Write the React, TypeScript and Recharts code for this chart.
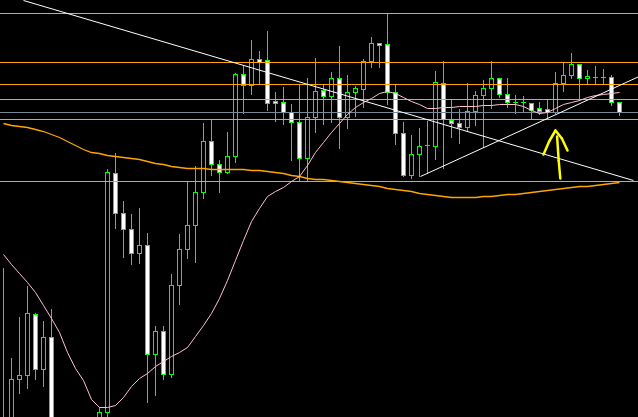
import { Bar, ComposedChart, Line, ReferenceLine, XAxis, YAxis } from "recharts";

// candles, oldest first (price units, no axis shown on the original screenshot)
const open = [
  180, 170, 221, 225, 286, 231, 263, 155, 140, 150, 135, 155, 170, 188, 427, 387, 371, 347, 355, 246,
  269, 226, 315, 351, 375, 408, 459, 436, 428, 444, 526, 515, 541, 540, 499, 498, 488, 478, 442, 483,
  510, 504, 522, 483, 508, 511, 539, 557, 556, 508, 467, 425, 446, 455, 454, 517, 480, 477, 473, 489,
  505, 512, 522, 506, 498, 498, 497, 492, 491, 488, 517, 525, 536, 522, 523, 523, 523, 498,
];
const high = [
  332, 242, 283, 314, 287, 279, 291, 160, 158, 155, 162, 175, 193, 431, 447, 399, 386, 392, 367, 274,
  274, 326, 366, 418, 434, 477, 481, 440, 468, 527, 535, 560, 549, 569, 508, 513, 496, 516, 522, 542,
  515, 528, 554, 525, 514, 541, 563, 557, 586, 516, 478, 465, 472, 479, 529, 539, 500, 491, 517, 509,
  520, 539, 522, 522, 505, 504, 497, 498, 500, 528, 537, 547, 536, 530, 534, 531, 525, 498,
];
const low = [
  150, 160, 207, 212, 221, 214, 148, 130, 135, 125, 130, 150, 165, 175, 372, 343, 336, 337, 198, 205,
  221, 223, 296, 342, 338, 402, 425, 408, 427, 438, 487, 506, 516, 490, 479, 476, 440, 419, 420, 468,
  476, 478, 452, 472, 484, 493, 533, 533, 496, 456, 424, 422, 424, 427, 441, 432, 463, 457, 470, 475,
  453, 492, 503, 493, 487, 489, 481, 486, 482, 487, 509, 522, 500, 516, 517, 517, 495, 485,
];
const close = [
  160, 221, 225, 287, 231, 263, 155, 140, 150, 135, 155, 170, 188, 428, 387, 371, 347, 355, 246, 269,
  226, 315, 351, 375, 408, 459, 436, 428, 444, 526, 515, 541, 538, 497, 497, 488, 478, 442, 483, 509,
  504, 522, 483, 508, 512, 539, 557, 555, 508, 467, 425, 446, 454, 455, 518, 481, 477, 473, 489, 505,
  512, 522, 506, 498, 498, 498, 490, 489, 488, 517, 525, 536, 522, 524, 523, 523, 498, 488,
];

// moving averages
const maFast = [
  346, 336, 327, 318, 308, 295, 282, 268, 248, 232, 220, 201, 193, 193, 195, 203, 214, 222, 227, 234,
  239, 244, 248, 253, 264, 275, 287, 302, 320, 340, 360, 379, 392, 404, 409, 413, 419, 424, 435, 448,
  458, 468, 477, 486, 493, 498, 502, 507, 509, 507, 503, 499, 496, 492, 492, 493, 493, 494, 494, 494,
  495, 495, 496, 496, 496, 494, 490, 487, 488, 492, 496, 498, 500, 503, 505, 506, 507, 508,
];
const maSlow = [
  477, 475, 474, 473, 471, 469, 466, 463, 459, 455, 451, 448, 447, 445, 444, 443, 442, 441, 439, 437,
  436, 434, 433, 432, 432, 432, 431, 431, 431, 431, 431, 430, 430, 429, 428, 427, 425, 424, 422, 421,
  421, 420, 419, 418, 417, 416, 415, 414, 412, 411, 410, 409, 407, 406, 405, 404, 403, 403, 403, 403,
  404, 404, 405, 406, 406, 407, 408, 409, 410, 411, 412, 413, 414, 414, 415, 416, 417, 418,
];

// horizontal levels
const orangeLevels = [587, 538, 516, 501, 481, 419];
const grayLevels = [488];

// trendlines: [bar index, price] pairs
const trendDown = [[2.5, 600], [78.75, 420]];
const trendUp = [[52.125, 424], [80, 526]];

// hand drawn arrow
const arrowHead = [[67.5, 446], [68.2, 459], [69.0, 470], [69.8, 462], [70.5, 450]];
const arrowShaft = [[69.2, 464], [69.4, 440], [69.6, 422]];

const GREEN = "#00ff00";

const data = open.map((o, i) => ({
  i,
  o,
  h: high[i],
  l: low[i],
  c: close[i],
  maFast: maFast[i],
  maSlow: maSlow[i],
}));

// snap to the middle of a pixel so 1px strokes stay crisp
const snap = (v: number) => Math.floor(v) + 0.5;

function Candle(props: any) {
  const { x, y, width, height, payload } = props;
  const { o, h, l, c } = payload;
  const cx = snap(x + width / 2);
  const py = (v: number) => snap(y + ((h - v) / (h - l)) * height);
  const top = py(Math.max(o, c));
  const bot = py(Math.min(o, c));
  return (
    <g>
      <line x1={cx} x2={cx} y1={py(h) - 0.5} y2={py(l) + 0.5} stroke={GREEN} strokeWidth={1} />
      {o === c ? (
        <line x1={cx - 2.5} x2={cx + 2.5} y1={top} y2={top} stroke={GREEN} strokeWidth={1} />
      ) : (
        <rect
          x={cx - 2}
          y={top}
          width={4}
          height={bot - top}
          fill={c < o ? "#ffffff" : "#000000"}
          stroke={GREEN}
          strokeWidth={1}
        />
      )}
    </g>
  );
}

const segs = (pts: number[][]) =>
  pts.slice(1).map((p, k) => [
    { x: pts[k][0], y: pts[k][1] },
    { x: p[0], y: p[1] },
  ]);

export default function App() {
  return (
    <div style={{ position: "absolute", left: 0, top: 0, width: 638, height: 417, background: "#000" }}>
      <ComposedChart width={638} height={417} data={data} margin={{ top: 0, right: 0, bottom: 0, left: 0 }}>
        <XAxis dataKey="i" type="number" domain={[-0.4375, 79.3125]} allowDataOverflow hide />
        <YAxis type="number" domain={[183.5, 600.5]} allowDataOverflow hide />
        {orangeLevels.map((v) => (
          <ReferenceLine key={"o" + v} y={v} stroke="#ffa500" strokeWidth={1} />
        ))}
        {grayLevels.map((v) => (
          <ReferenceLine key={"g" + v} y={v} stroke="#778899" strokeWidth={1} />
        ))}
        <Bar
          dataKey={(d: any) => [d.l, d.h]}
          barSize={5}
          shape={(p: any) => <Candle {...p} />}
          isAnimationActive={false}
        />
        <Line
          dataKey="maSlow"
          type="linear"
          stroke="#ffa500"
          strokeWidth={1.3}
          dot={false}
          activeDot={false}
          isAnimationActive={false}
        />
        <Line
          dataKey="maFast"
          type="linear"
          stroke="#ffc0cb"
          strokeWidth={1}
          dot={false}
          activeDot={false}
          isAnimationActive={false}
        />
        {segs(trendDown).map((s, k) => (
          <ReferenceLine key={"td" + k} segment={s} stroke="#ffffff" strokeWidth={1} ifOverflow="visible" />
        ))}
        {segs(trendUp).map((s, k) => (
          <ReferenceLine key={"tu" + k} segment={s} stroke="#ffffff" strokeWidth={1} ifOverflow="visible" />
        ))}
        {[...segs(arrowHead), ...segs(arrowShaft)].map((s, k) => (
          <ReferenceLine
            key={"a" + k}
            segment={s}
            stroke="#ffff00"
            strokeWidth={2.5}
            strokeLinecap="round"
            ifOverflow="visible"
          />
        ))}
      </ComposedChart>
    </div>
  );
}
